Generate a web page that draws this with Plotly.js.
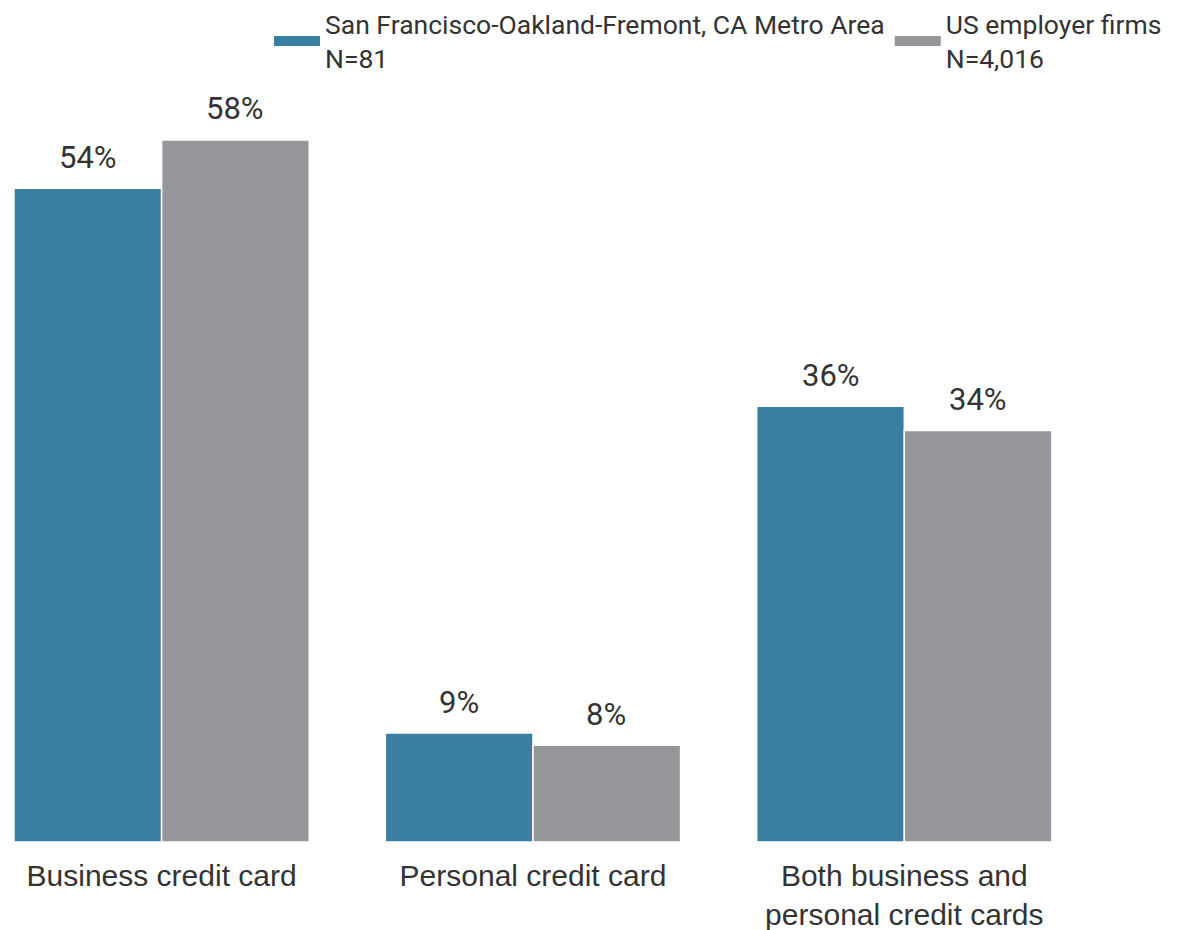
<!DOCTYPE html>
<html>
<head>
<meta charset="utf-8">
<script src="https://cdn.plot.ly/plotly-3.0.1.min.js"></script>
<style>html,body{margin:0;padding:0;background:#fff;}#chart{width:1194px;height:930px;}</style>
</head>
<body>
<div id="chart"></div>
<script>
const categories = ["Business credit card", "Personal credit card", "Both business and<br>personal credit cards"];
const seriesNames = ["San Francisco-Oakland-Fremont, CA Metro Area<br>N=81", "US employer firms<br>N=4,016"];
const sfValues = [54, 9, 36];
const usValues = [58, 8, 34];
const colors = ["#3a7ea1", "#95969a"];

const FONT = "Roboto, sans-serif";
const TICKFONT = "'Liberation Sans', Arial, sans-serif";

const mkBar = (name, vals, color) => ({
  type: "bar",
  name: name,
  x: categories,
  y: vals,
  showlegend: false,
  marker: {color: color, line: {color: "#ffffff", width: 1.5}},
  hoverinfo: "x+y"
});

// legend-only entries drawn as thick line swatches
const mkLegend = (name, color) => ({
  type: "scatter",
  mode: "lines",
  name: name,
  x: [null], y: [null],
  line: {color: color, width: 14},
  showlegend: true,
  hoverinfo: "skip"
});

const data = [
  mkBar(seriesNames[0], sfValues, colors[0]),
  mkBar(seriesNames[1], usValues, colors[1]),
  mkLegend(seriesNames[0], colors[0]),
  mkLegend(seriesNames[1], colors[1])
];

const barHalf = 73.5;
const annotations = [];
[sfValues, usValues].forEach((vals, si) => {
  vals.forEach((v, i) => {
    annotations.push({
      x: categories[i], y: v, xref: "x", yref: "y",
      text: v + "%", showarrow: false,
      xanchor: "center", yanchor: "middle",
      xshift: si === 0 ? -barHalf : barHalf,
      yshift: 31,
      font: {family: FONT, size: 31, color: "#333333"}
    });
  });
});

const layout = {
  width: 1194, height: 930,
  margin: {l: 14, r: 104, t: 100, b: 88},
  paper_bgcolor: "#ffffff", plot_bgcolor: "#ffffff",
  barmode: "group", bargap: 0.205, bargroupgap: 0.0,
  font: {family: FONT, color: "#333333"},
  showlegend: true,
  legend: {
    orientation: "h",
    xref: "container", yref: "container",
    x: 269 / 1194, xanchor: "left", y: 1, yanchor: "top",
    font: {family: FONT, size: 26.5, color: "#333333"},
    traceorder: "normal", itemwidth: 46,
    bgcolor: "rgba(0,0,0,0)"
  },
  annotations: annotations,
  xaxis: {
    range: [-0.3975, 2.5], showgrid: false, zeroline: false, showline: false,
    ticks: "", ticklabelstandoff: 13, automargin: false,
    tickfont: {family: TICKFONT, size: 30, color: "#333333"},
    fixedrange: true
  },
  yaxis: {
    range: [0, 61.3], visible: false, showgrid: false, zeroline: false, fixedrange: true, automargin: false
  }
};

Plotly.newPlot("chart", data, layout, {displayModeBar: false, staticPlot: true});
</script>
</body>
</html>
